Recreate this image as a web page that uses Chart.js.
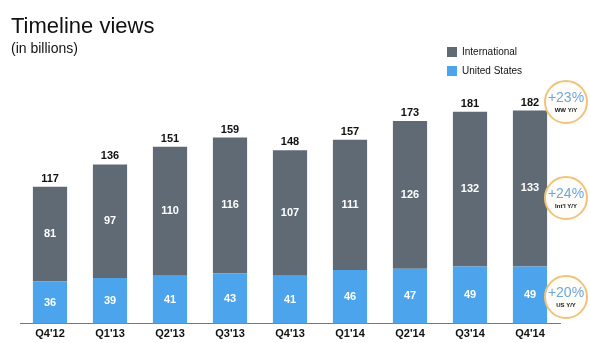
<!DOCTYPE html>
<html>
<head>
<meta charset="utf-8">
<style>
  html, body { margin: 0; padding: 0; background: #fff; }
  #wrap { width: 590px; height: 343px; position: relative; }
</style>
<script src="https://cdn.jsdelivr.net/npm/chart.js@4/dist/chart.umd.min.js"></script>
</head>
<body>
<div id="wrap"><canvas id="chart"></canvas></div>
<script>
// quarters and timeline views (billions)
const quarters = ["Q4'12", "Q1'13", "Q2'13", "Q3'13", "Q4'13", "Q1'14", "Q2'14", "Q3'14", "Q4'14"]
const usViews = [36, 39, 41, 43, 41, 46, 47, 49, 49]
const intlViews = [81, 97, 110, 116, 107, 111, 126, 132, 133]
const totals = [117, 136, 151, 159, 148, 157, 173, 181, 182]

// year over year bubbles on the right
const growthValues = ['+23%', '+24%', '+20%']
const growthNames = ['WW Y/Y', "Int'l Y/Y", 'US Y/Y']

const colors = { intl: '#5f6a74', us: '#4ba4ec', ring: '#f2c27a', growth: '#6ea6dc' }
const font = '"Liberation Sans", Arial, Helvetica, sans-serif'

// title, legend, value labels and growth circles
const decorations = {
    id: 'decorations',
    afterDraw(chart) {
        const ctx = chart.ctx
        ctx.save()

        ctx.fillStyle = '#111'
        ctx.textAlign = 'left'
        ctx.textBaseline = 'alphabetic'
        ctx.font = '22px ' + font
        ctx.fillText('Timeline views', 11, 33)
        ctx.font = '14px ' + font
        ctx.fillText('(in billions)', 11, 53)

        // legend
        const legendItems = [['International', colors.intl], ['United States', colors.us]]
        legendItems.forEach(([label, color], i) => {
            const y = 47 + i * 19
            ctx.fillStyle = color
            ctx.fillRect(447, y, 10, 10)
            ctx.fillStyle = '#111'
            ctx.font = '10px ' + font
            ctx.textBaseline = 'middle'
            ctx.fillText(label, 462, y + 5)
        })

        // values on bars
        const intlMeta = chart.getDatasetMeta(1)
        const usMeta = chart.getDatasetMeta(0)
        ctx.textAlign = 'center'
        ctx.textBaseline = 'middle'
        ctx.font = 'bold 11px ' + font
        usMeta.data.forEach((bar, i) => {
            ctx.fillStyle = '#fff'
            ctx.fillText(usViews[i], bar.x, (bar.y + bar.base) / 2)
            const top = intlMeta.data[i]
            ctx.fillText(intlViews[i], top.x, (top.y + top.base) / 2)
            ctx.fillStyle = '#111'
            ctx.fillText(totals[i], top.x, top.y - 8)
        })

        // growth circles
        const circleY = [102, 198, 297]
        growthValues.forEach((val, i) => {
            const cx = 566, cy = circleY[i]
            ctx.beginPath()
            ctx.arc(cx, cy, 21, 0, Math.PI * 2)
            ctx.fillStyle = '#fffdf9'
            ctx.fill()
            ctx.lineWidth = 2
            ctx.strokeStyle = colors.ring
            ctx.stroke()
            ctx.fillStyle = colors.growth
            ctx.font = '14px ' + font
            ctx.fillText(val, cx, cy - 4)
            ctx.fillStyle = '#111'
            ctx.font = 'bold 6px ' + font
            ctx.fillText(growthNames[i], cx, cy + 8)
        })

        ctx.restore()
    }
}

new Chart('chart', {
    type: 'bar',
    data: {
        labels: quarters,
        datasets: [
            { label: 'United States', data: usViews, backgroundColor: colors.us },
            { label: 'International', data: intlViews, backgroundColor: colors.intl }
        ]
    },
    options: {
        responsive: true,
        maintainAspectRatio: false,
        animation: false,
        datasets: { bar: { categoryPercentage: 1, barPercentage: 0.57 } },
        layout: { padding: { left: 20, right: 30, top: 66, bottom: -2 } },
        plugins: {
            legend: { display: false },
            tooltip: { enabled: false }
        },
        scales: {
            x: {
                stacked: true,
                grid: { display: false, drawTicks: false },
                border: { display: true, color: '#777', width: 1 },
                ticks: { color: '#111', padding: 4, font: { family: font, size: 11, weight: 'bold' } }
            },
            y: {
                stacked: true,
                display: false,
                min: 0,
                max: 220
            }
        }
    },
    plugins: [decorations]
})
</script>
</body>
</html>
